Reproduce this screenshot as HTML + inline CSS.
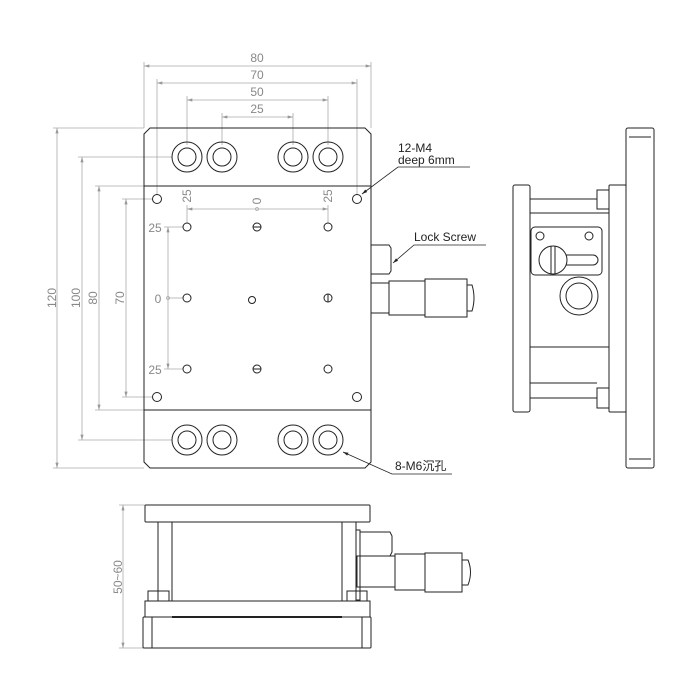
<!DOCTYPE html>
<html><head><meta charset="utf-8"><style>html,body{margin:0;padding:0;background:#fff}svg{display:block}</style></head>
<body>
<svg width="700" height="700" viewBox="0 0 700 700" xmlns="http://www.w3.org/2000/svg" font-family="'Liberation Sans','Noto Sans CJK SC',sans-serif">
<defs>
<marker id="a" viewBox="0 0 10 6" refX="10" refY="3" markerWidth="7" markerHeight="4" orient="auto-start-reverse"><path d="M0,0L10,3L0,6z" fill="#999"/></marker>
<marker id="b" viewBox="0 0 10 6" refX="10" refY="3" markerWidth="7" markerHeight="4" orient="auto"><path d="M0,0L10,3L0,6z" fill="#222"/></marker>
</defs>
<!-- dimension lines -->
<g stroke="#aaa" stroke-width="0.8" fill="none">
<line x1="144" y1="62" x2="144" y2="128"/><line x1="371" y1="62" x2="371" y2="128"/>
<line x1="144" y1="66" x2="371" y2="66" marker-start="url(#a)" marker-end="url(#a)"/>
<line x1="157" y1="79" x2="157" y2="195"/><line x1="357" y1="79" x2="357" y2="195"/>
<line x1="157" y1="83" x2="357" y2="83" marker-start="url(#a)" marker-end="url(#a)"/>
<line x1="187" y1="96" x2="187" y2="145"/><line x1="328" y1="96" x2="328" y2="145"/>
<line x1="187" y1="100" x2="328" y2="100" marker-start="url(#a)" marker-end="url(#a)"/>
<line x1="222" y1="113" x2="222" y2="145"/><line x1="293" y1="113" x2="293" y2="145"/>
<line x1="222" y1="117" x2="293" y2="117" marker-start="url(#a)" marker-end="url(#a)"/>
<line x1="53" y1="128" x2="144" y2="128"/><line x1="53" y1="468" x2="144" y2="468"/>
<line x1="57" y1="128" x2="57" y2="468" marker-start="url(#a)" marker-end="url(#a)"/>
<line x1="78" y1="157" x2="172" y2="157"/><line x1="78" y1="440" x2="172" y2="440"/>
<line x1="82" y1="157" x2="82" y2="440" marker-start="url(#a)" marker-end="url(#a)"/>
<line x1="95" y1="186" x2="144" y2="186"/><line x1="95" y1="410" x2="144" y2="410"/>
<line x1="99" y1="186" x2="99" y2="410" marker-start="url(#a)" marker-end="url(#a)"/>
<line x1="122" y1="199" x2="153" y2="199"/><line x1="122" y1="397" x2="153" y2="397"/>
<line x1="126" y1="199" x2="126" y2="397" marker-start="url(#a)" marker-end="url(#a)"/>
<line x1="187" y1="205" x2="187" y2="223"/><line x1="328" y1="205" x2="328" y2="223"/>
<line x1="187" y1="209" x2="328" y2="209" marker-start="url(#a)" marker-end="url(#a)"/>
<line x1="164" y1="227" x2="183" y2="227"/><line x1="164" y1="369" x2="183" y2="369"/>
<line x1="168" y1="227" x2="168" y2="369" marker-start="url(#a)" marker-end="url(#a)"/>
<line x1="168" y1="298" x2="183" y2="298"/>
<circle cx="257" cy="209" r="1.5"/><circle cx="168" cy="298" r="1.5"/>
<line x1="119" y1="505" x2="145" y2="505"/><line x1="119" y1="648" x2="143" y2="648"/>
<line x1="123" y1="505" x2="123" y2="648" marker-start="url(#a)" marker-end="url(#a)"/>
</g>
<g fill="#888" font-size="12" text-anchor="middle">
<text x="257" y="62">80</text><text x="257" y="79">70</text><text x="257" y="96">50</text><text x="257" y="113">25</text>
<text transform="translate(56,298) rotate(-90)">120</text>
<text transform="translate(80,298) rotate(-90)">100</text>
<text transform="translate(97,298) rotate(-90)">80</text>
<text transform="translate(124,298) rotate(-90)">70</text>
<text transform="translate(191,196) rotate(-90)">25</text>
<text transform="translate(261,201) rotate(-90)">0</text>
<text transform="translate(332,196) rotate(-90)">25</text>
<text x="155" y="232">25</text><text x="158" y="303">0</text><text x="155" y="374">25</text>
<text transform="translate(122,577) rotate(-90)">50~60</text>
</g>
<!-- top view -->
<g stroke="#222" stroke-width="1" fill="none">
<path d="M150,128H365L371,134V462L365,468H150L144,462V134Z"/>
<line x1="144" y1="186" x2="371" y2="186"/><line x1="144" y1="410" x2="371" y2="410"/>
<g>
<circle cx="187" cy="157" r="15"/><circle cx="187" cy="157" r="9"/>
<circle cx="222" cy="157" r="15"/><circle cx="222" cy="157" r="9"/>
<circle cx="293" cy="157" r="15"/><circle cx="293" cy="157" r="9"/>
<circle cx="328" cy="157" r="15"/><circle cx="328" cy="157" r="9"/>
<circle cx="187" cy="440" r="15"/><circle cx="187" cy="440" r="9"/>
<circle cx="222" cy="440" r="15"/><circle cx="222" cy="440" r="9"/>
<circle cx="293" cy="440" r="15"/><circle cx="293" cy="440" r="9"/>
<circle cx="328" cy="440" r="15"/><circle cx="328" cy="440" r="9"/>
</g>
<circle cx="157" cy="199" r="4.5"/><circle cx="357" cy="199" r="4.5"/>
<circle cx="157" cy="397" r="4.5"/><circle cx="357" cy="397" r="4.5"/>
<circle cx="187" cy="227" r="4"/><circle cx="328" cy="227" r="4"/>
<circle cx="187" cy="298" r="4"/><circle cx="187" cy="369" r="4"/><circle cx="328" cy="369" r="4"/>
<circle cx="252" cy="300" r="3.5"/>
<circle cx="257" cy="227" r="4"/><line x1="253" y1="227" x2="261" y2="227"/>
<circle cx="257" cy="369" r="4"/><line x1="253" y1="369" x2="261" y2="369"/>
<circle cx="328" cy="298" r="4"/><line x1="328" y1="294" x2="328" y2="302"/>
<!-- lock screw & micrometer -->
<path d="M371,245H389L391,248V271L389,274H371"/>
<rect x="371" y="283" width="18" height="30"/>
<rect x="389" y="281" width="36" height="34"/>
<rect x="425" y="279" width="42" height="38"/>
<path d="M467,285H472Q476,298 472,311H467"/>
</g>
<!-- labels -->
<g fill="#222" font-size="12">
<text x="398" y="152">12-M4</text><text x="398" y="164">deep 6mm</text>
<text x="414" y="241">Lock Screw</text>
<text x="395" y="470">8-M6沉孔</text>
</g>
<g stroke="#222" stroke-width="0.8" fill="none">
<polyline points="470,167 398,167 362,194" marker-end="url(#b)"/>
<polyline points="486,245 414,245 393,263" marker-end="url(#b)"/>
<polyline points="452,474 392,474 343,452" marker-end="url(#b)"/>
</g>
<!-- right view -->
<g stroke="#222" stroke-width="1" fill="none">
<rect x="626" y="128" width="28" height="340" rx="2"/>
<line x1="629" y1="137" x2="651" y2="137"/><line x1="629" y1="459" x2="651" y2="459"/>
<rect x="513" y="185" width="17" height="227" rx="2"/>
<rect x="609" y="185" width="17" height="227" rx="1"/>
<line x1="530" y1="199" x2="597" y2="199"/><line x1="530" y1="213" x2="609" y2="213"/>
<line x1="530" y1="347" x2="609" y2="347"/><line x1="530" y1="383" x2="597" y2="383"/>
<line x1="530" y1="398" x2="597" y2="398"/>
<rect x="597" y="190" width="12" height="19"/><rect x="597" y="388" width="12" height="20"/>
<rect x="531" y="227" width="71" height="48" rx="4"/>
<circle cx="540" cy="236" r="4"/><circle cx="589" cy="236" r="4"/>
<path d="M556,255H593A5,5 0 0 1 593,265H556"/>
<circle cx="553" cy="260" r="14" fill="#fff"/>
<line x1="551" y1="246" x2="551" y2="274"/><line x1="555" y1="246" x2="555" y2="274"/>
<circle cx="579" cy="296" r="19"/><circle cx="579" cy="296" r="13"/>
</g>
<!-- bottom view -->
<g stroke="#222" stroke-width="1" fill="none">
<rect x="145" y="505" width="225" height="17" rx="1"/>
<rect x="158" y="522" width="14" height="79"/><rect x="342" y="522" width="14" height="79"/>
<line x1="172" y1="522" x2="172" y2="601"/><line x1="342" y1="522" x2="342" y2="601"/>
<rect x="148" y="591" width="21" height="10"/><rect x="347" y="591" width="20" height="10"/>
<rect x="145" y="601" width="225" height="16"/>
<rect x="143" y="617" width="228" height="31" rx="1"/>
<line x1="152" y1="617" x2="152" y2="648"/><line x1="362" y1="617" x2="362" y2="648"/>
<line x1="172" y1="617" x2="342" y2="617" stroke-width="2"/>
<rect x="356" y="530" width="4" height="70"/>
<path d="M360,532H390L392,536V552L390,556H360"/>
<rect x="357" y="556" width="38" height="31"/>
<rect x="395" y="554" width="30" height="36"/>
<rect x="425" y="553" width="37" height="39"/>
<path d="M462,560H468Q473,572 468,585H462"/>
</g>
</svg>
</body></html>
